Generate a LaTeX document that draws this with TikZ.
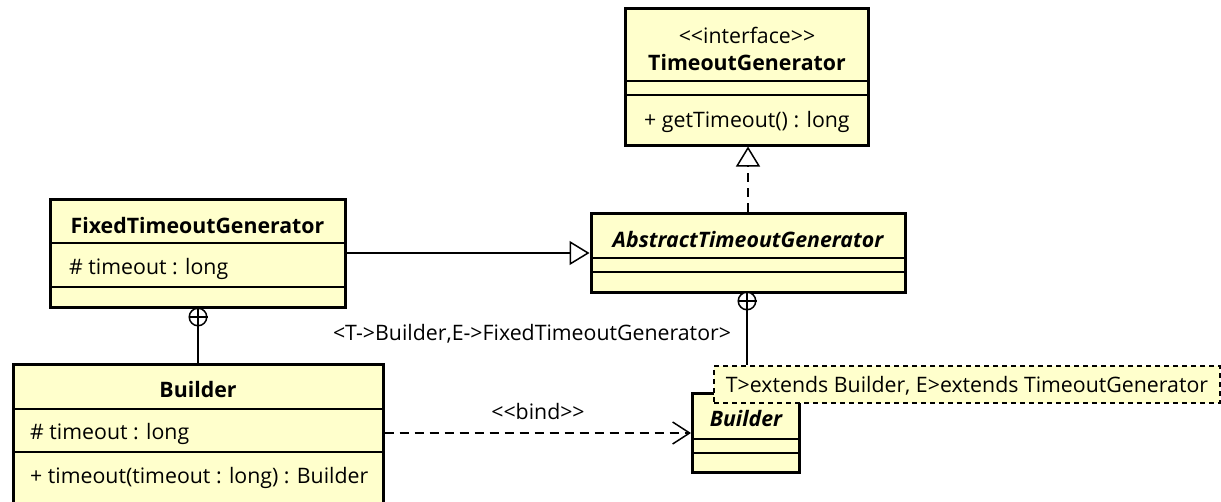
\documentclass[tikz,border=0pt]{standalone}
\usepackage{fontspec}
\setmainfont{Open Sans}
\usetikzlibrary{arrows.meta}
\definecolor{cls}{RGB}{255,255,204}
\newcommand{\fsz}{\fontsize{21.3}{25}\selectfont}
\tikzset{
  classbox/.style={draw=black, fill=cls, line width=3pt, inner sep=0pt},
  sep/.style={line width=1.5pt},
  txt/.style={inner sep=0pt, font=\fsz},
  bold/.style={font=\fsz\bfseries},
  bolditalic/.style={font=\fsz\bfseries\itshape},
  conn/.style={line width=1.5pt},
  dsh/.style={dash pattern=on 9pt off 6pt},
  nest/.style={circle, draw, line width=1.5pt, fill=white, minimum size=17.5pt, inner sep=0pt},
  tplbox/.style={draw=black, fill=cls, line width=1.5pt, dash pattern=on 5pt off 4pt, inner sep=0pt},
}
\begin{document}
\begin{tikzpicture}[x=1pt,y=-1pt]
\useasboundingbox (0,0) rectangle (1221,501);
% TimeoutGenerator
\node[classbox, minimum width=243pt, minimum height=137pt] (tg) at (747,76.5) {};
\draw[sep] (626,81) -- (868,81);
\draw[sep] (626,95) -- (868,95);
\node[txt] (tgst) at (747,35) {{<}{<}interface{>}{>}};
\node[txt, bold] (tgname) at (747,63) {TimeoutGenerator};
\node[txt, anchor=west] (tgop) at (644,122) {+ getTimeout() : long};
% AbstractTimeoutGenerator
\node[classbox, minimum width=314pt, minimum height=79pt] (atg) at (748,252.5) {};
\draw[sep] (591,258) -- (905,258);
\draw[sep] (591,272) -- (905,272);
\node[txt, bolditalic] (atgname) at (748,240) {AbstractTimeoutGenerator};
% FixedTimeoutGenerator
\node[classbox, minimum width=295pt, minimum height=108pt] (ftg) at (197.5,253) {};
\draw[sep] (50,243) -- (345,243);
\draw[sep] (50,287) -- (345,287);
\node[txt, bold] (ftgname) at (197.5,226) {FixedTimeoutGenerator};
\node[txt, anchor=west] (ftgattr) at (69,269) {\# timeout : long};
% Builder (nested)
\node[classbox, minimum width=370pt, minimum height=142pt] (bld) at (198,435) {};
\draw[sep] (13,409) -- (383,409);
\draw[sep] (13,452) -- (383,452);
\node[txt, bold] (bldname) at (198,390) {Builder};
\node[txt, anchor=west] (bldattr) at (30,434) {\# timeout : long};
\node[txt, anchor=west] (bldop) at (30,478) {+ timeout(timeout : long) : Builder};
% Builder (abstract template)
\node[classbox, minimum width=107pt, minimum height=79pt] (abld) at (746,432.5) {};
\draw[sep] (692,439) -- (799,439);
\draw[sep] (692,453) -- (799,453);
\node[txt, bolditalic] (abldname) at (746,419) {Builder};
% template parameters
\node[tplbox, minimum width=506pt, minimum height=37pt] (tpl) at (967,384.5) {};
\node[txt] (tpltxt) at (967,386) {T>extends Builder, E>extends TimeoutGenerator};
% connectors
\draw[conn, dsh, -{Triangle[open, length=20pt, width=24pt, line width=1.5pt]}] (atg.north -| 748,0) -- (tg.south -| 748,0);
\draw[conn, -{Triangle[open, length=20pt, width=24pt, line width=1.5pt]}] (ftg.east |- 0,253) -- (atg.west |- 0,253);
\node[nest] (n1) at (198,317) {};
\draw[conn] (n1.north) -- (n1.south);
\draw[conn] (n1.west) -- (n1.east);
\draw[conn] (n1.south) -- (bld.north);
\node[nest] (n2) at (747,301) {};
\draw[conn] (n2.north) -- (n2.south);
\draw[conn] (n2.west) -- (n2.east);
\draw[conn] (n2.south) -- (n2.south |- tpl.north);
\draw[conn, dsh, -{Straight Barb[length=17pt, width=22pt, line width=1.5pt]}] (bld.east |- 0,433) -- (abld.west |- 0,433);
\node[txt] (bind) at (538,412) {{<}{<}bind{>}{>}};
\node[txt] (bindlbl) at (532,334) {{<}T->Builder,E->FixedTimeoutGenerator{>}};
\end{tikzpicture}
\end{document}
